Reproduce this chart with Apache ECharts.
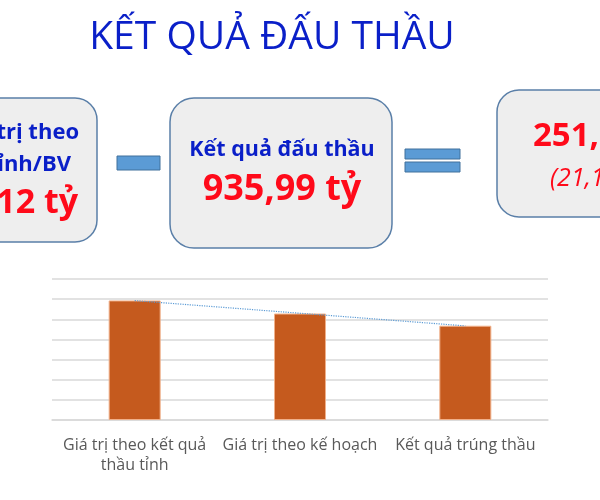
<!DOCTYPE html>
<html>
<head>
<meta charset="utf-8">
<script src="https://cdn.jsdelivr.net/npm/echarts@6/dist/echarts.min.js"></script>
<style>
html,body{margin:0;padding:0;background:#fff;}
#chart{width:600px;height:500px;}
</style>
</head>
<body>
<div id="chart"></div>
<script>
var title = 'KẾT QUẢ ĐẤU THẦU';
var categories = ['Giá trị theo kết quả\nthầu tỉnh', 'Giá trị theo kế hoạch', 'Kết quả trúng thầu'];
var values = [1187.12, 1057, 935.99];
var leftBoxLines = ['Giá trị theo', 'thầu tỉnh/BV', '1.187,12 tỷ'];
var midBoxLines = ['Kết quả đấu thầu', '935,99 tỷ'];
var rightBoxLines = ['251,13 tỷ', '(21,15%)'];
var yTicks = {min: 0, max: 1400, interval: 200};

// linear trendline derived from the bar values (as in the source spreadsheet)
function trend(v) {
  var n = v.length, sx = 0, sy = 0, sxy = 0, sxx = 0;
  for (var i = 0; i < n; i++) { sx += i; sy += v[i]; sxy += i * v[i]; sxx += i * i; }
  var b = (n * sxy - sx * sy) / (n * sxx - sx * sx);
  var a = (sy - b * sx) / n;
  return v.map(function (_, i) { return +(a + b * i).toFixed(2); });
}

var blue = '#0a1fc8', red = '#ff0a1a';
var boxStyle = {fill: '#eeeeee', stroke: '#5a7fa8', lineWidth: 1.5};
var ff = '"Open Sans", "Noto Sans", sans-serif';

var chart = echarts.init(document.getElementById('chart'));
chart.setOption({
  backgroundColor: '#ffffff',
  animation: false,
  grid: {left: 52, right: 52, top: 279, bottom: 80},
  xAxis: {
    type: 'category',
    data: categories,
    axisLine: {show: true, lineStyle: {color: '#d9d9d9', width: 1.5}},
    axisTick: {show: false},
    axisLabel: {color: '#595959', fontSize: 16, fontFamily: ff, lineHeight: 20, margin: 15, interval: 0}
  },
  yAxis: {
    type: 'value',
    min: yTicks.min, max: yTicks.max, interval: yTicks.interval,
    axisLabel: {show: false},
    axisLine: {show: false},
    axisTick: {show: false},
    splitLine: {lineStyle: {color: '#d9d9d9', width: 1.5}}
  },
  series: [{
    type: 'bar',
    data: values,
    barWidth: 52,
    itemStyle: {color: '#c55a1e', borderColor: '#f0b08a', borderWidth: 1}
  }, {
    type: 'line',
    data: trend(values),
    symbol: 'none',
    lineStyle: {color: '#5b9bd5', width: 1.2, type: 'dotted'},
    z: 5
  }],
  graphic: [
    {type: 'text', style: {text: title, x: 272, y: 38, textAlign: 'center', textVerticalAlign: 'middle', font: '400 39px ' + ff, fill: blue}},
    // left box
    {type: 'rect', shape: {x: -125, y: 98, width: 222, height: 144, r: 22}, style: boxStyle},
    {type: 'text', style: {text: leftBoxLines[0], x: 79, y: 133, textAlign: 'right', textVerticalAlign: 'middle', font: 'bold 22px ' + ff, fill: blue}},
    {type: 'text', style: {text: leftBoxLines[1], x: 71, y: 165, textAlign: 'right', textVerticalAlign: 'middle', font: 'bold 22px ' + ff, fill: blue}},
    {type: 'text', style: {text: leftBoxLines[2], x: 78, y: 203, textAlign: 'right', textVerticalAlign: 'middle', font: 'bold 34px ' + ff, fill: red}},
    // minus
    {type: 'rect', shape: {x: 117, y: 156, width: 43, height: 14}, style: {fill: '#5b9bd5', stroke: '#41719c', lineWidth: 1}},
    // middle box
    {type: 'rect', shape: {x: 170, y: 98, width: 222, height: 150, r: 24}, style: boxStyle},
    {type: 'text', style: {text: midBoxLines[0], x: 282, y: 150, textAlign: 'center', textVerticalAlign: 'middle', font: 'bold 21.5px ' + ff, fill: blue}},
    {type: 'text', style: {text: midBoxLines[1], x: 282, y: 190, textAlign: 'center', textVerticalAlign: 'middle', font: 'bold 36px ' + ff, fill: red}},
    // equals
    {type: 'rect', shape: {x: 405, y: 149, width: 55, height: 10}, style: {fill: '#5b9bd5', stroke: '#41719c', lineWidth: 1}},
    {type: 'rect', shape: {x: 405, y: 162, width: 55, height: 10}, style: {fill: '#5b9bd5', stroke: '#41719c', lineWidth: 1}},
    // right box
    {type: 'rect', shape: {x: 497, y: 90, width: 222, height: 127, r: 22}, style: boxStyle},
    {type: 'text', style: {text: rightBoxLines[0], x: 533, y: 137, textAlign: 'left', textVerticalAlign: 'middle', font: 'bold 33px ' + ff, fill: red}},
    {type: 'text', style: {text: rightBoxLines[1], x: 550, y: 179, textAlign: 'left', textVerticalAlign: 'middle', font: 'italic 25px ' + ff, fill: red}}
  ]
});
</script>
</body>
</html>
